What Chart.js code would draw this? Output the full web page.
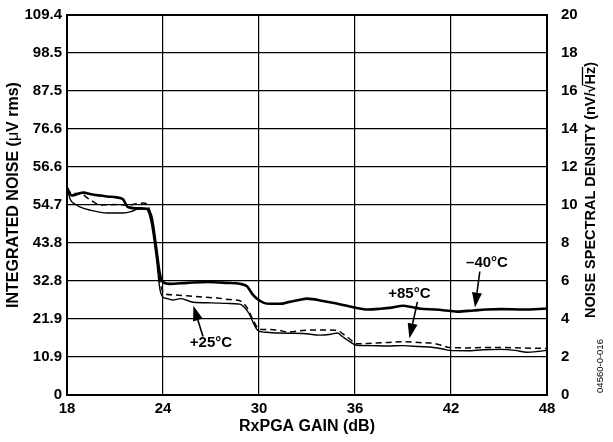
<!DOCTYPE html>
<html>
<head>
<meta charset="utf-8">
<script src="https://cdn.jsdelivr.net/npm/chart.js@4"></script>
<style>
  html, body { margin: 0; padding: 0; background: #fff; }
  #wrap { width: 613px; height: 442px; }
</style>
</head>
<body>
<div id="wrap"><canvas id="noiseChart" width="613" height="442"></canvas></div>
<script>
// ==== Ticks
const GAIN_TICKS = [18, 24, 30, 36, 42, 48];
const LEFT_TICKS = ["0", "10.9", "21.9", "32.8", "43.8", "54.7", "56.6", "76.6", "87.5", "98.5", "109.4"];
const RIGHT_TICKS = ["0", "2", "4", "6", "8", "10", "12", "14", "16", "18", "20"];

// ==== Series (gain in dB, noise density in nV/rtHz)
const gainM40 = [18, 18.3, 19, 19.6, 20.5, 21.1, 21.5, 21.8, 22.6, 23.0, 23.3, 23.6, 23.8, 24.0, 24.4, 25.5, 26.8, 28.0, 28.8, 29.25, 29.6, 29.9, 30.3, 30.7, 31.3, 31.9, 32.5, 33.0, 34.0, 34.9, 35.5, 36.1, 36.8, 37.6, 38.3, 39.0, 39.6, 40.1, 41.0, 42.0, 42.4, 43.4, 44.2, 45.1, 46.5, 48.0];
const noiseM40 = [10.9, 10.5, 10.65, 10.55, 10.45, 10.4, 10.3, 9.9, 9.82, 9.8, 9.3, 7.6, 6.4, 5.95, 5.85, 5.9, 5.95, 5.9, 5.85, 5.72, 5.3, 5.05, 4.85, 4.8, 4.8, 4.9, 5.0, 5.07, 4.95, 4.8, 4.7, 4.58, 4.5, 4.54, 4.6, 4.7, 4.62, 4.54, 4.5, 4.42, 4.39, 4.45, 4.5, 4.52, 4.5, 4.55];

const gainP25 = [18, 18.2, 18.5, 18.8, 19.5, 20.5, 21.5, 22.0, 22.4, 22.9, 23.1, 23.3, 23.6, 23.8, 24.0, 24.3, 24.6, 25.1, 25.9, 27.0, 28.0, 28.8, 29.1, 29.4, 29.7, 29.9, 30.2, 30.5, 31.3, 32.0, 32.75, 33.8, 34.5, 34.9, 35.25, 35.6, 36.1, 37.0, 38.0, 39.0, 40.0, 40.9, 41.5, 41.9, 43.0, 44.0, 45.1, 46.0, 46.75, 47.5, 48];
const noiseP25 = [11.0, 10.3, 10.05, 9.9, 9.72, 9.58, 9.58, 9.65, 9.78, 9.8, 9.6, 8.9, 7.1, 5.6, 5.15, 5.07, 5.0, 5.07, 4.88, 4.85, 4.82, 4.78, 4.6, 4.25, 3.7, 3.42, 3.32, 3.3, 3.26, 3.25, 3.24, 3.15, 3.2, 3.26, 3.05, 2.85, 2.62, 2.6, 2.58, 2.6, 2.55, 2.5, 2.42, 2.35, 2.33, 2.38, 2.4, 2.35, 2.25, 2.3, 2.35];

const gainP85 = [18, 18.3, 18.8, 19.4, 20.1, 21.0, 21.75, 22.75, 23.0, 23.2, 23.4, 23.6, 23.8, 24.1, 24.6, 25.5, 26.5, 27.4, 28.2, 28.8, 29.25, 29.6, 29.9, 30.2, 30.7, 31.3, 31.75, 32.75, 33.8, 34.9, 35.2, 35.6, 36.1, 37.0, 38.0, 39.0, 40.0, 40.9, 41.4, 41.9, 43.0, 44.0, 45.1, 46.5, 48];
const noiseP85 = [10.9, 10.6, 10.6, 10.3, 10.0, 10.02, 10.0, 10.1, 10.05, 9.6, 8.7, 7.3, 6.0, 5.33, 5.27, 5.22, 5.15, 5.1, 5.02, 4.96, 4.6, 4.0, 3.55, 3.45, 3.45, 3.4, 3.32, 3.4, 3.42, 3.4, 3.24, 3.0, 2.7, 2.72, 2.76, 2.8, 2.76, 2.72, 2.62, 2.5, 2.48, 2.5, 2.5, 2.47, 2.45];

// ==== Callouts (text + arrow, in data units)
const CALLOUTS = [
  { text: "\u201340\u00B0C", tx: 44.25, ty: 6.95, ax: 43.8, ay: 6.5, bx: 43.5, by: 4.6 },
  { text: "+85\u00B0C", tx: 39.4, ty: 5.33, ax: 39.9, ay: 4.9, bx: 39.4, by: 2.98 },
  { text: "+25\u00B0C", tx: 27.0, ty: 2.77, ax: 26.5, ay: 3.08, bx: 25.9, by: 4.7 },
];

const FONT = "'Liberation Sans', Arial, sans-serif";

// ==== Helpers
function toPoints(xs, ys) {
  return xs.map((x, i) => ({ x: x, y: ys[i] }));
}

function drawPieces(ctx, pieces, cx, cy) {
  let total = 0;
  pieces.forEach(p => { ctx.font = p.font; p.w = ctx.measureText(p.t).width; total += p.w; });
  let x = cx - total / 2;
  ctx.textBaseline = "middle";
  ctx.textAlign = "left";
  pieces.forEach(p => {
    ctx.font = p.font;
    ctx.fillText(p.t, x, cy);
    if (p.over) {
      ctx.beginPath();
      ctx.lineWidth = 1.3;
      ctx.moveTo(x - 1, cy - 8.5);
      ctx.lineTo(x + p.w, cy - 8.5);
      ctx.stroke();
    }
    x += p.w;
  });
}

// ==== Plugin : cadre, titres, annotations
const decorPlugin = {
  id: "decor",
  afterDraw(chart) {
    const ctx = chart.ctx;
    const a = chart.chartArea;
    const xs = chart.scales.x;
    const ys = chart.scales.y;
    ctx.save();
    ctx.strokeStyle = "#000";
    ctx.fillStyle = "#000";

    // frame
    ctx.lineWidth = 2;
    ctx.strokeRect(a.left, a.top, a.right - a.left, a.bottom - a.top);

    // left title
    ctx.save();
    ctx.translate(13.5, 195);
    ctx.rotate(-Math.PI / 2);
    drawPieces(ctx, [
      { t: "INTEGRATED NOISE (", font: "bold 16px " + FONT },
      { t: "\u03BC", font: "16px " + FONT },
      { t: "V rms)", font: "bold 16px " + FONT },
    ], 0, 0);
    ctx.restore();

    // right title
    ctx.save();
    ctx.translate(591, 190);
    ctx.rotate(-Math.PI / 2);
    drawPieces(ctx, [
      { t: "NOISE SPECTRAL DENSITY (nV/\u221A", font: "bold 14.5px " + FONT },
      { t: "Hz", font: "bold 14.5px " + FONT, over: true },
      { t: ")", font: "bold 14.5px " + FONT },
    ], 0, 0);
    ctx.restore();

    // x title
    ctx.font = "bold 16px " + FONT;
    ctx.textAlign = "center";
    ctx.textBaseline = "middle";
    ctx.fillText("RxPGA GAIN (dB)", (a.left + a.right) / 2, 427);

    // figure number
    ctx.save();
    ctx.translate(600, 366);
    ctx.rotate(-Math.PI / 2);
    ctx.font = "9.5px " + FONT;
    ctx.textAlign = "center";
    ctx.textBaseline = "middle";
    ctx.fillText("04560-0-016", 0, 0);
    ctx.restore();

    // callouts
    CALLOUTS.forEach(c => {
      ctx.font = "bold 15px " + FONT;
      ctx.textAlign = "center";
      ctx.textBaseline = "middle";
      ctx.fillText(c.text, xs.getPixelForValue(c.tx), ys.getPixelForValue(c.ty));

      const x1 = xs.getPixelForValue(c.ax), y1 = ys.getPixelForValue(c.ay);
      const x2 = xs.getPixelForValue(c.bx), y2 = ys.getPixelForValue(c.by);
      const ang = Math.atan2(y2 - y1, x2 - x1);
      const headLen = 15, headW = 5;
      const hx = x2 - headLen * Math.cos(ang), hy = y2 - headLen * Math.sin(ang);
      ctx.lineWidth = 1.6;
      ctx.beginPath();
      ctx.moveTo(x1, y1);
      ctx.lineTo(hx, hy);
      ctx.stroke();
      ctx.beginPath();
      ctx.moveTo(x2, y2);
      ctx.lineTo(hx + headW * Math.sin(ang), hy - headW * Math.cos(ang));
      ctx.lineTo(hx - headW * Math.sin(ang), hy + headW * Math.cos(ang));
      ctx.closePath();
      ctx.fill();
    });

    ctx.restore();
  },
};

// ==== Graphique
const tickFont = { family: FONT, size: 15, weight: "bold" };
const ctx = document.getElementById("noiseChart").getContext("2d");
const noiseChart = new Chart(ctx, {
  type: "line",
  data: {
    datasets: [
      {
        label: "-40°C",
        data: toPoints(gainM40, noiseM40),
        borderColor: "#000",
        borderWidth: 2.6,
        pointRadius: 0,
        cubicInterpolationMode: "monotone",
        fill: false,
      },
      {
        label: "+25°C",
        data: toPoints(gainP25, noiseP25),
        borderColor: "#000",
        borderWidth: 1.4,
        pointRadius: 0,
        cubicInterpolationMode: "monotone",
        fill: false,
      },
      {
        label: "+85°C",
        data: toPoints(gainP85, noiseP85),
        borderColor: "#000",
        borderWidth: 1.5,
        borderDash: [6, 4],
        pointRadius: 0,
        cubicInterpolationMode: "monotone",
        fill: false,
      },
    ],
  },
  options: {
    responsive: false,
    animation: false,
    devicePixelRatio: 1,
    layout: { padding: { top: 12, left: 0, right: 0, bottom: 0 } },
    plugins: { legend: { display: false }, tooltip: { enabled: false } },
    scales: {
      x: {
        type: "linear",
        min: 18,
        max: 48,
        afterBuildTicks: (s) => { s.ticks = GAIN_TICKS.map(v => ({ value: v })); },
        afterFit: (s) => { s.height = 47; },
        grid: { color: "#000", lineWidth: 1.2, drawTicks: false },
        border: { display: false },
        ticks: { color: "#000", font: tickFont, padding: 5, maxRotation: 0 },
      },
      y: {
        position: "left",
        min: 0,
        max: 20,
        afterBuildTicks: (s) => { s.ticks = LEFT_TICKS.map((t, i) => ({ value: i * 2 })); },
        afterFit: (s) => { s.width = 67; },
        grid: { color: "#000", lineWidth: 1.2, drawTicks: false },
        border: { display: false },
        ticks: {
          color: "#000",
          font: tickFont,
          padding: 5,
          callback: (v, i) => LEFT_TICKS[i],
        },
      },
      y2: {
        position: "right",
        min: 0,
        max: 20,
        afterBuildTicks: (s) => { s.ticks = RIGHT_TICKS.map((t, i) => ({ value: i * 2 })); },
        afterFit: (s) => { s.width = 66; },
        grid: { display: false },
        border: { display: false },
        ticks: {
          color: "#000",
          font: tickFont,
          padding: 6,
          callback: (v, i) => RIGHT_TICKS[i],
        },
      },
    },
  },
  plugins: [decorPlugin],
});
</script>
</body>
</html>
